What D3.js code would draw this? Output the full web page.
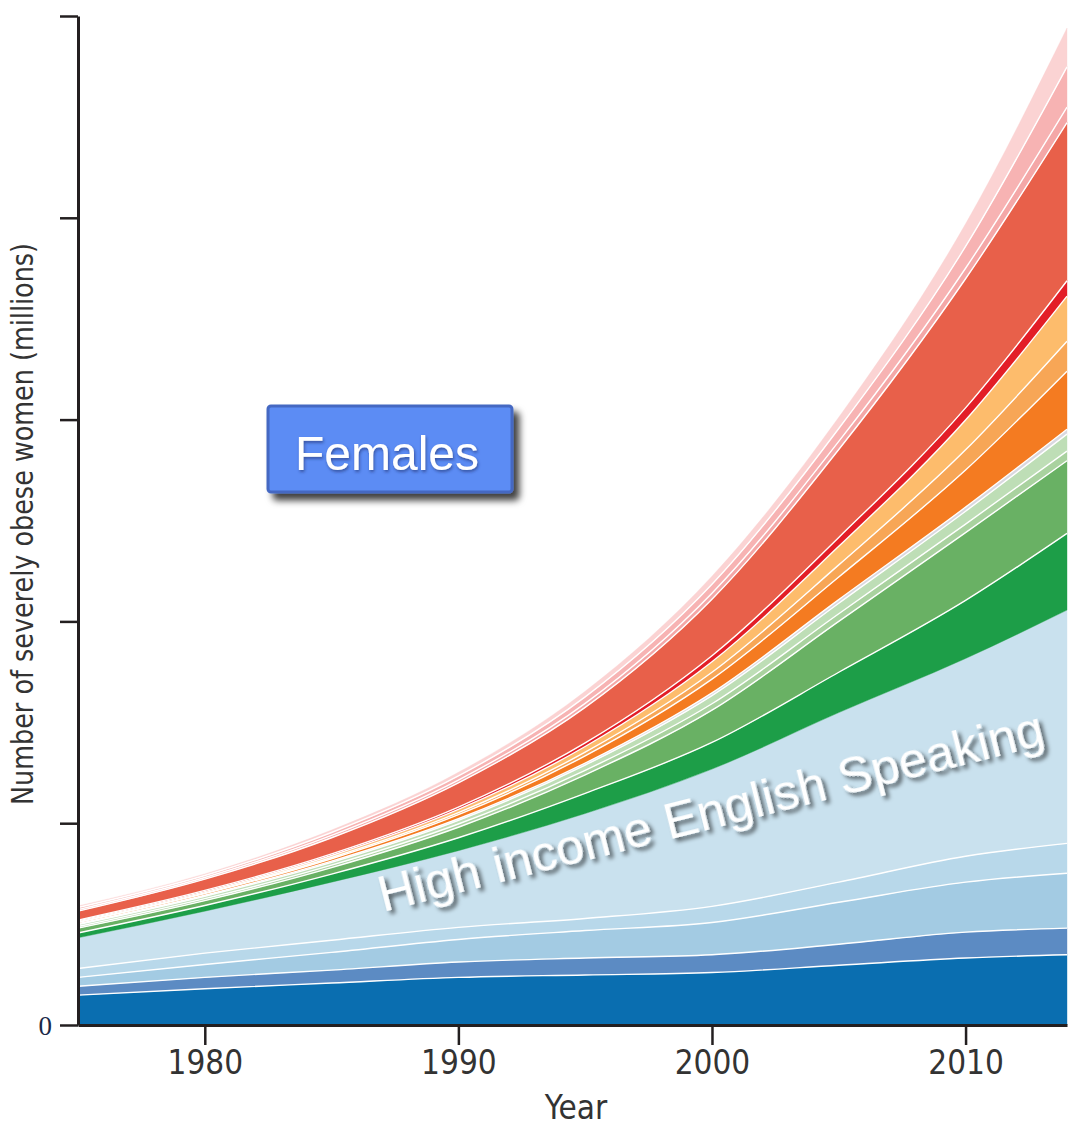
<!DOCTYPE html>
<html>
<head>
<meta charset="utf-8">
<script src="https://cdn.jsdelivr.net/npm/d3@7"></script>
<style>
  html, body { margin: 0; padding: 0; background: #fff; }
  svg { display: block; }
</style>
</head>
<body>
<svg id="chart" width="1083" height="1127"></svg>
<script>
// Number of severely obese women (millions), stacked by region, bottom to top
const years = [1975, 1980, 1985, 1990, 1995, 2000, 2005, 2010, 2014];

const dkBlue            = [3.7, 4.5, 5.2, 5.9, 6.2, 6.5, 7.4, 8.3, 8.7];
const midBlue           = [1.1, 1.4, 1.6, 1.9, 2.1, 2.2, 2.6, 3.2, 3.3];
const ltBlue            = [1.1, 1.6, 2.2, 2.8, 3.4, 4.0, 5.2, 6.2, 6.8];
const paleBlue          = [1.1, 1.4, 1.5, 1.5, 1.5, 2.0, 2.5, 3.2, 3.7];
const highIncomeEnglish = [3.8, 5.2, 7.2, 9.5, 13.0, 17.0, 21.0, 24.5, 28.9];
const dkGreen           = [0.6, 0.7, 1.0, 1.6, 2.5, 3.3, 5.0, 7.2, 9.5];
const midGreen          = [0.6, 0.6, 0.8, 1.3, 2.3, 4.0, 6.3, 8.4, 9.0];
const ltGreen2          = [0.2, 0.25, 0.3, 0.4, 0.55, 0.8, 0.95, 1.05, 1.2];
const ltGreen1          = [0.25, 0.3, 0.35, 0.45, 0.65, 1.0, 1.3, 1.6, 2.1];
const greyBand          = [0.1, 0.12, 0.15, 0.2, 0.25, 0.35, 0.45, 0.5, 0.6];
const orange            = [0.15, 0.2, 0.3, 0.5, 0.9, 1.7, 2.8, 4.6, 7.2];
const midOrange         = [0.08, 0.1, 0.15, 0.25, 0.45, 0.85, 1.5, 2.5, 3.7];
const ltOrange          = [0.12, 0.15, 0.25, 0.4, 0.7, 1.3, 2.3, 3.7, 5.6];
const redStripe         = [0.1, 0.15, 0.2, 0.3, 0.45, 0.75, 1.1, 1.5, 1.9];
const red               = [1.1, 1.4, 2.0, 3.0, 4.4, 7.0, 10.9, 16.0, 19.6];
const pink3             = [0.2, 0.2, 0.3, 0.35, 0.5, 0.75, 1.0, 1.3, 1.9];
const pink2             = [0.25, 0.25, 0.35, 0.5, 0.8, 1.1, 1.6, 2.7, 5.0];
const pink1             = [0.2, 0.2, 0.3, 0.45, 0.7, 1.0, 1.4, 2.8, 4.8];

const seriesKeys = ["dkBlue", "midBlue", "ltBlue", "paleBlue", "highIncomeEnglish",
  "dkGreen", "midGreen", "ltGreen2", "ltGreen1", "greyBand",
  "orange", "midOrange", "ltOrange", "redStripe", "red",
  "pink3", "pink2", "pink1"];
const seriesValues = [dkBlue, midBlue, ltBlue, paleBlue, highIncomeEnglish,
  dkGreen, midGreen, ltGreen2, ltGreen1, greyBand,
  orange, midOrange, ltOrange, redStripe, red,
  pink3, pink2, pink1];
const seriesColors = ["#0a6eb0", "#5c8bc3", "#a3cbe3", "#b8d8ea", "#c9e1ee",
  "#1d9e48", "#69b164", "#a9d29f", "#bedeb6", "#d9d8e0",
  "#f47b21", "#f7a656", "#fdbc6c", "#e31e27", "#e8604a",
  "#f4a7a7", "#f7b3b3", "#fbd3d3"];

const xTicks = [1980, 1990, 2000, 2010];
const yTicks = [0, 25, 50, 75, 100, 125];
const yTickLabels = ["0", "", "", "", "", ""];

// table for d3.stack
const rows = years.map((yr, i) => {
  const r = { year: yr };
  seriesKeys.forEach((k, j) => { r[k] = seriesValues[j][i]; });
  return r;
});

const svg = d3.select("#chart");
const x = d3.scaleLinear().domain([1975, 2014]).range([78, 1067]);
const y = d3.scaleLinear().domain([0, 125]).range([1025, 16]);

const defs = svg.append("defs");
defs.append("filter").attr("id", "boxShadow")
  .attr("x", "-10%").attr("y", "-10%").attr("width", "130%").attr("height", "140%")
  .append("feDropShadow")
  .attr("dx", 6).attr("dy", 7).attr("stdDeviation", 3.5)
  .attr("flood-color", "#000").attr("flood-opacity", 0.75);
defs.append("filter").attr("id", "textShadow")
  .attr("x", "-10%").attr("y", "-40%").attr("width", "130%").attr("height", "180%")
  .append("feDropShadow")
  .attr("dx", 3).attr("dy", 4).attr("stdDeviation", 2.2)
  .attr("flood-color", "#000").attr("flood-opacity", 0.6);
defs.append("filter").attr("id", "softShadow")
  .append("feDropShadow")
  .attr("dx", 1).attr("dy", 2).attr("stdDeviation", 1.5)
  .attr("flood-color", "#1a2f6a").attr("flood-opacity", 0.6);

const stacked = d3.stack().keys(seriesKeys)(rows);

const area = d3.area()
  .x(d => x(d.data.year))
  .y0(d => y(d[0]))
  .y1(d => y(d[1]))
  .curve(d3.curveMonotoneX);

const edge = d3.line()
  .x(d => x(d.data.year))
  .y(d => y(d[1]))
  .curve(d3.curveMonotoneX);

const plot = svg.append("g");
plot.selectAll("path.layer")
  .data(stacked)
  .join("path")
  .attr("class", "layer")
  .attr("fill", (d, i) => seriesColors[i])
  .attr("stroke", (d, i) => seriesColors[i])
  .attr("stroke-width", 0.4)
  .attr("d", area);

// thin white separators between the bands
plot.selectAll("path.sep")
  .data(stacked.slice(0, stacked.length - 1).filter((d, i) => i !== 4))
  .join("path")
  .attr("class", "sep")
  .attr("fill", "none")
  .attr("stroke", "#fff")
  .attr("stroke-width", 1.4)
  .attr("d", edge);

// axes
const axisColor = "#231f20";
const yAxis = d3.axisLeft(y)
  .tickValues(yTicks)
  .tickSize(18)
  .tickSizeOuter(0)
  .tickPadding(8)
  .tickFormat((d, i) => yTickLabels[i]);
const gy = svg.append("g").attr("transform", "translate(78,0)").call(yAxis);
gy.select(".domain").attr("stroke", axisColor).attr("stroke-width", 3);
gy.selectAll(".tick line").attr("stroke", axisColor).attr("stroke-width", 2.5);
gy.selectAll(".tick text")
  .attr("fill", "#1c2a48")
  .attr("font-family", "'Liberation Serif', 'DejaVu Serif', serif")
  .attr("font-size", 27)
  .attr("dy", "0.36em");

const xAxis = d3.axisBottom(x)
  .tickValues(xTicks)
  .tickSize(20)
  .tickSizeOuter(0)
  .tickPadding(6)
  .tickFormat(d3.format("d"));
const gx = svg.append("g").attr("transform", "translate(0,1025)").call(xAxis);
gx.select(".domain").attr("stroke", axisColor).attr("stroke-width", 3);
gx.selectAll(".tick line").attr("stroke", axisColor).attr("stroke-width", 2.5);
gx.selectAll(".tick text")
  .attr("fill", "#333")
  .attr("font-family", "'Liberation Sans Narrow', 'DejaVu Sans Condensed', 'Roboto Condensed', sans-serif")
  .attr("font-stretch", "condensed")
  .attr("font-size", 33);

// axis titles
svg.append("text")
  .attr("transform", "translate(33,524) rotate(-90)")
  .attr("text-anchor", "middle")
  .attr("font-family", "'Liberation Sans Narrow', 'DejaVu Sans Condensed', sans-serif")
  .attr("font-stretch", "condensed")
  .attr("font-size", 30)
  .attr("fill", "#333")
  .attr("textLength", 562)
  .attr("lengthAdjust", "spacingAndGlyphs")
  .text("Number of severely obese women (millions)");

svg.append("text")
  .attr("x", 576).attr("y", 1119)
  .attr("text-anchor", "middle")
  .attr("font-family", "'Liberation Sans Narrow', 'DejaVu Sans Condensed', sans-serif")
  .attr("font-stretch", "condensed")
  .attr("font-size", 33)
  .attr("fill", "#333")
  .text("Year");

// region label on the big band
svg.append("text")
  .attr("transform", "translate(383,912) rotate(-14.2)")
  .attr("font-family", "'Liberation Sans', Arial, sans-serif")
  .attr("font-size", 50.5)
  .attr("fill", "#fff")
  .attr("filter", "url(#textShadow)")
  .text("High income English Speaking");

// panel badge
const badge = svg.append("g");
badge.append("rect")
  .attr("x", 268).attr("y", 406).attr("width", 244).attr("height", 86)
  .attr("rx", 3)
  .attr("fill", "#5b8cf4")
  .attr("stroke", "#4568c2")
  .attr("stroke-width", 3)
  .attr("filter", "url(#boxShadow)");
badge.append("text")
  .attr("x", 387).attr("y", 470)
  .attr("text-anchor", "middle")
  .attr("font-family", "'Liberation Sans', Arial, sans-serif")
  .attr("font-size", 48)
  .attr("fill", "#fff")
  .attr("filter", "url(#softShadow)")
  .text("Females");
</script>
</body>
</html>
